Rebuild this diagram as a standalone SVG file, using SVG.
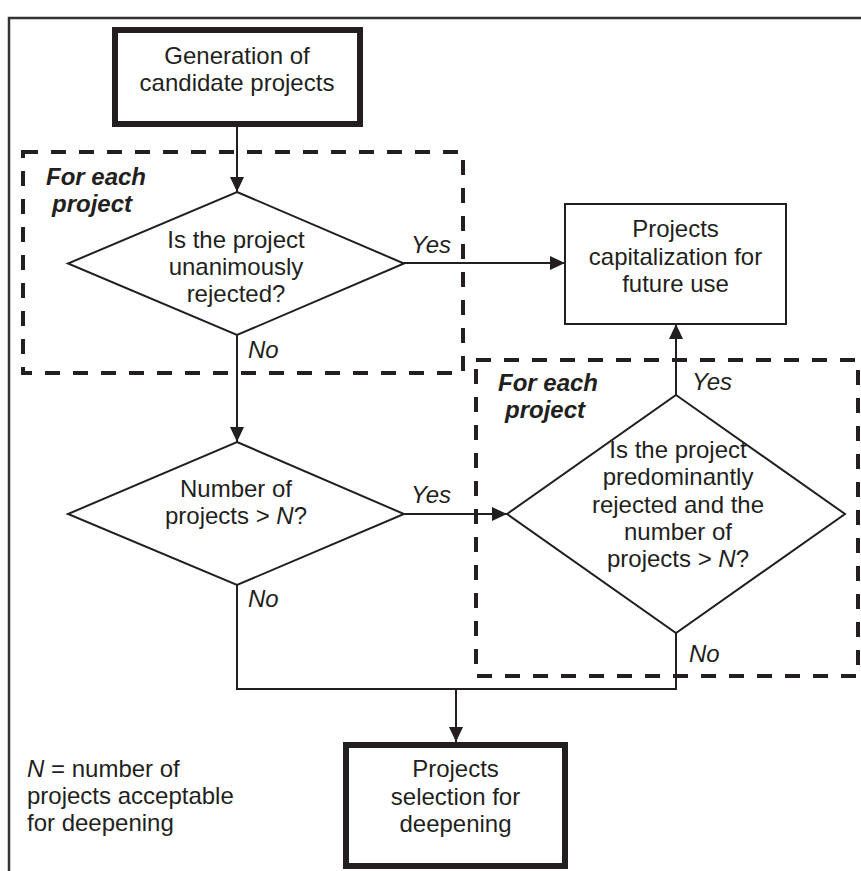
<svg xmlns="http://www.w3.org/2000/svg" width="861" height="871" viewBox="0 0 861 871">
<defs>
<style>
text{font-family:"Liberation Sans",Arial,sans-serif;font-size:24px;fill:#231f20}
.c{text-anchor:middle}
.i{font-style:italic}
.bi{font-style:italic;font-weight:bold}
.thick{fill:#fff;stroke:#231f20;stroke-width:6}
.thin{fill:#fff;stroke:#231f20;stroke-width:2}
.dash{fill:none;stroke:#231f20;stroke-width:4;stroke-dasharray:15 13}
.ln{fill:none;stroke:#231f20;stroke-width:2}
</style>
<marker id="ah" markerUnits="userSpaceOnUse" markerWidth="16" markerHeight="14" refX="15" refY="7" orient="auto">
<path d="M0,0 L15,7 L0,14 Z" fill="#231f20"/>
</marker>
</defs>
<rect width="861" height="871" fill="#fff"/>
<g id="frame">
<path d="M9,871 V18 H861" fill="none" stroke="#333" stroke-width="2.5"/>
</g>
<g id="loop1">
<rect class="dash" x="23" y="152" width="440" height="221"/>
<text class="bi" x="46" y="185">For each</text>
<text class="bi" x="52" y="212">project</text>
</g>
<g id="loop2">
<rect class="dash" x="476" y="360" width="382" height="316"/>
<text class="bi" x="498" y="391">For each</text>
<text class="bi" x="505" y="418">project</text>
</g>
<g id="connectors">
<path class="ln" d="M237,127 V192" marker-end="url(#ah)"/>
<path class="ln" d="M403,263 H565" marker-end="url(#ah)"/>
<path class="ln" d="M237,335 V442" marker-end="url(#ah)"/>
<path class="ln" d="M403,514 H507" marker-end="url(#ah)"/>
<path class="ln" d="M676,395 V324" marker-end="url(#ah)"/>
<path class="ln" d="M237,585 V689 H676 V633"/>
<path class="ln" d="M456,689 V742" marker-end="url(#ah)"/>
<text class="i" x="411" y="253">Yes</text>
<text class="i" x="248" y="358">No</text>
<text class="i" x="411" y="503">Yes</text>
<text class="i" x="248" y="607">No</text>
<text class="i" x="692" y="390">Yes</text>
<text class="i" x="689" y="662">No</text>
</g>
<g id="generation">
<rect class="thick" x="115" y="30" width="245" height="94"/>
<text class="c" x="237" y="64">Generation of</text>
<text class="c" x="237" y="91">candidate projects</text>
</g>
<g id="decision1">
<polygon class="thin" points="237,192 404,263.5 237,335 68,263.5"/>
<text class="c" x="236" y="248">Is the project</text>
<text class="c" x="236" y="275">unanimously</text>
<text class="c" x="236" y="302">rejected?</text>
</g>
<g id="capitalization">
<rect class="thin" x="565" y="204" width="221" height="120"/>
<text class="c" x="675.5" y="237">Projects</text>
<text class="c" x="675.5" y="265">capitalization for</text>
<text class="c" x="675.5" y="292">future use</text>
</g>
<g id="decision2">
<polygon class="thin" points="237,442 404,514 237,585 68,514"/>
<text class="c" x="236" y="497">Number of</text>
<text class="c" x="236" y="524">projects &gt; <tspan class="i">N</tspan>?</text>
</g>
<g id="decision3">
<polygon class="thin" points="676,395 845,514 676,633 507,514"/>
<text class="c" x="678" y="458">Is the project</text>
<text class="c" x="678" y="485">predominantly</text>
<text class="c" x="678" y="513">rejected and the</text>
<text class="c" x="678" y="540">number of</text>
<text class="c" x="678" y="567">projects &gt; <tspan class="i">N</tspan>?</text>
</g>
<g id="selection">
<rect class="thick" x="346" y="745" width="219" height="121"/>
<text class="c" x="455.5" y="777">Projects</text>
<text class="c" x="455.5" y="805">selection for</text>
<text class="c" x="455.5" y="832">deepening</text>
</g>
<g id="note">
<text x="27" y="777"><tspan class="i">N</tspan> = number of</text>
<text x="27" y="804">projects acceptable</text>
<text x="27" y="831">for deepening</text>
</g>
</svg>
